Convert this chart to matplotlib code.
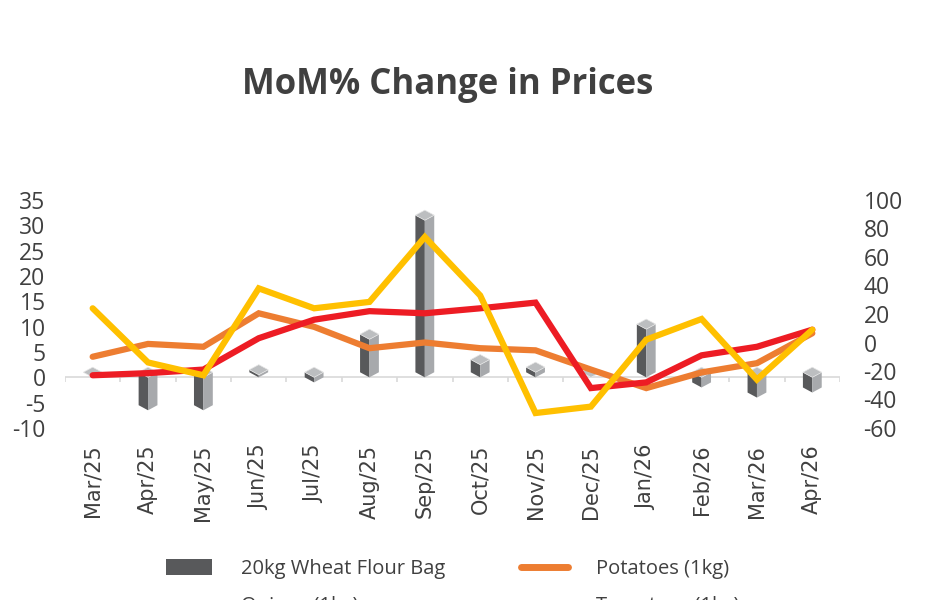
import matplotlib
matplotlib.use("Agg")
import matplotlib.pyplot as plt
from matplotlib.patches import Polygon, Patch
from matplotlib.lines import Line2D

months = ["Mar/25", "Apr/25", "May/25", "Jun/25", "Jul/25", "Aug/25", "Sep/25",
          "Oct/25", "Nov/25", "Dec/25", "Jan/26", "Feb/26", "Mar/26", "Apr/26"]
wheat_flour = [0, -6.5, -6.5, 0.5, -1, 7.5, 31, 2.5, 1, 0, 9.5, -2, -4, -3]
potatoes = [-10, -1, -3, 20.5, 11, -4, 0, -4, -5.5, -19, -32, -21, -14.5, 6.5]
onions = [-23, -21.5, -19, 3, 16, 22, 20.5, 24, 28, -32, -28, -9, -3, 9]
tomatoes = [24, -14, -23, 38, 24, 28.5, 74, 33, -49.5, -45, 2, 16.5, -26, 9]
left_ticks = [-10, -5, 0, 5, 10, 15, 20, 25, 30, 35]
right_ticks = [-60, -40, -20, 0, 20, 40, 60, 80, 100]

TXT = "#404040"
plt.rcParams['font.family'] = ['Open Sans', 'DejaVu Sans']

fig = plt.figure(figsize=(9.32, 6), dpi=100)
ax = fig.add_axes([65/932, 1-428/600, 775/932, 228/600])
ax2 = ax.twinx()

x = list(range(len(months)))
ax.set_xlim(-0.5, len(months) - 0.5)
ax.set_ylim(-10, 35)
ax2.set_ylim(-60, 100)

# zero line + category boundary ticks
ax.axhline(0, color="#d9d9d9", lw=1.2, zorder=1)
ax.vlines([i - 0.5 for i in range(len(months) + 1)], -0.9, 0, color="#d9d9d9", lw=1.2, zorder=1)

# 3D-look bars
w = 0.34
d = 1.0
for xi, v in zip(x, wheat_flour):
    top = max(v, 0)
    bot = min(v, 0)
    left = Polygon([(xi - w/2, top + d), (xi, top), (xi, bot), (xi - w/2, bot + d)],
                   closed=True, facecolor="#58595b", edgecolor="none", zorder=2)
    right = Polygon([(xi, top), (xi + w/2, top + d), (xi + w/2, bot + d), (xi, bot)],
                    closed=True, facecolor="#a7a9ac", edgecolor="none", zorder=2)
    cap = Polygon([(xi - w/2, top + d), (xi, top), (xi + w/2, top + d), (xi, top + 2*d)],
                  closed=True, facecolor="#bcbec0", edgecolor="#e6e6e6", lw=0.5, zorder=3)
    for p in (left, right, cap):
        ax.add_patch(p)

lw = 4.5
ax2.plot(x, potatoes, color="#ed7d31", lw=lw, solid_capstyle="round", solid_joinstyle="miter", zorder=3)
ax2.plot(x, onions, color="#ed1c24", lw=lw, solid_capstyle="round", solid_joinstyle="miter", zorder=4)
ax2.plot(x, tomatoes, color="#ffc000", lw=lw, solid_capstyle="round", solid_joinstyle="miter", zorder=5)

for a in (ax, ax2):
    for s in a.spines.values():
        s.set_visible(False)

ax.set_xticks(x)
ax.set_xticklabels(months, rotation=90, fontsize=15, color=TXT, family="DejaVu Sans")
ax.tick_params(axis="x", length=0, pad=12)
ax.set_yticks(left_ticks)
ax.set_yticklabels([str(t) for t in left_ticks], fontsize=16.5, color=TXT)
ax.tick_params(axis="y", length=0, pad=14)
ax2.set_yticks(right_ticks)
ax2.set_yticklabels([str(t) for t in right_ticks], fontsize=16.5, color=TXT)
ax2.tick_params(axis="y", length=0, pad=17)

fig.text(0.48, 1 - 85/600, "MoM% Change in Prices", ha="center", va="center",
         fontsize=25, fontweight="bold", color=TXT)

handles = [
    Patch(facecolor="#58595b", edgecolor="none"),
    Line2D([], [], color="#ed1c24", lw=5, solid_capstyle="round"),
    Line2D([], [], color="#ed7d31", lw=5, solid_capstyle="round"),
    Line2D([], [], color="#ffc000", lw=5, solid_capstyle="round"),
]
labels = ["20kg Wheat Flour Bag", "Onions (1kg)", "Potatoes (1kg)", "Tomatoes (1kg)"]
fig.legend(handles, labels, ncol=2, loc="upper left", bbox_to_anchor=(148/932, 1 - 541/600),
           frameon=False, fontsize=14.5, labelcolor=TXT, handlelength=2.3, handleheight=0.8,
           handletextpad=1.4, columnspacing=3.8, labelspacing=0.82)

fig.savefig("out.png", dpi=100)
